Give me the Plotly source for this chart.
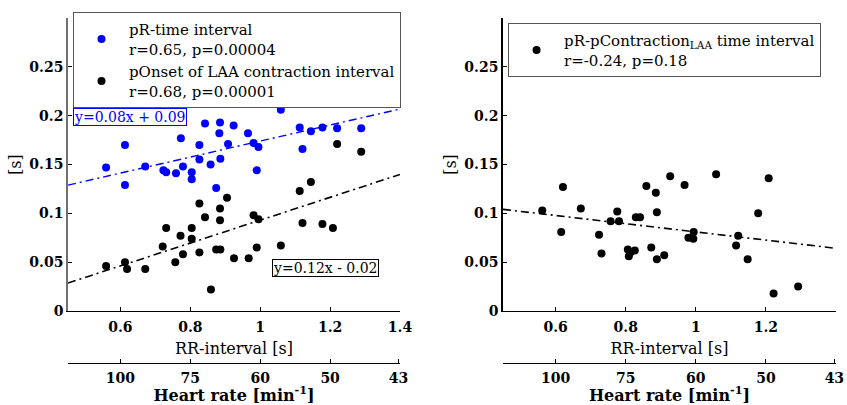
import plotly.graph_objects as go

# ---- data: RR interval [s] vs. time intervals [s] ----
rr_pr = [0.559, 0.613, 0.613, 0.671, 0.723, 0.731, 0.759, 0.773, 0.779, 0.804, 0.804,
         0.826, 0.826, 0.842, 0.858, 0.874, 0.885, 0.883, 0.886, 0.908, 0.924, 0.965,
         0.981, 0.995, 0.990, 1.059, 1.113, 1.121, 1.145, 1.178, 1.220, 1.289]
pr_time = [0.147, 0.170, 0.129, 0.148, 0.144, 0.142, 0.141, 0.177, 0.148, 0.142, 0.135,
           0.170, 0.155, 0.192, 0.150, 0.126, 0.193, 0.182, 0.156, 0.171, 0.190, 0.182,
           0.172, 0.168, 0.144, 0.206, 0.188, 0.166, 0.184, 0.188, 0.187, 0.187]

rr_onset = [0.559, 0.613, 0.619, 0.671, 0.721, 0.731, 0.757, 0.772, 0.779, 0.804, 0.804,
            0.826, 0.826, 0.842, 0.859, 0.874, 0.886, 0.885, 0.885, 0.905, 0.925, 0.967,
            0.981, 0.995, 0.990, 1.059, 1.113, 1.121, 1.145, 1.178, 1.208, 1.220, 1.289]
onset_time = [0.046, 0.050, 0.043, 0.043, 0.066, 0.085, 0.050, 0.077, 0.058, 0.085, 0.074,
              0.110, 0.060, 0.096, 0.022, 0.063, 0.063, 0.105, 0.093, 0.116, 0.054, 0.054,
              0.098, 0.094, 0.065, 0.067, 0.123, 0.090, 0.132, 0.089, 0.085, 0.171, 0.163]

rr_contr = [0.562, 0.621, 0.616, 0.672, 0.724, 0.731, 0.757, 0.781, 0.776, 0.806, 0.809,
            0.814, 0.826, 0.829, 0.841, 0.859, 0.873, 0.886, 0.889, 0.889, 0.910, 0.927,
            0.968, 0.979, 0.993, 0.994, 1.058, 1.115, 1.121, 1.148, 1.178, 1.208, 1.222, 1.292]
contr_time = [0.103, 0.127, 0.081, 0.105, 0.078, 0.059, 0.092, 0.092, 0.102, 0.063, 0.056,
              0.060, 0.062, 0.096, 0.096, 0.128, 0.065, 0.121, 0.101, 0.053, 0.057, 0.138,
              0.129, 0.075, 0.074, 0.081, 0.140, 0.067, 0.077, 0.053, 0.100, 0.136, 0.018, 0.025]

# linear fits: (slope, intercept)
fit_pr = (0.082, 0.092)
fit_onset = (0.117, -0.024)
fit_contr = (-0.042, 0.123)

rr_range = [0.45, 1.4]
s_range = [0, 0.3]
rr_ticks = [0.6, 0.8, 1.0, 1.2, 1.4]
rr_ticktext = ["0.6", "0.8", "1", "1.2", "1.4"]
hr_ticks = [100, 75, 60, 50, 43]
s_ticks = [0, 0.05, 0.1, 0.15, 0.2, 0.25]
s_ticktext = ["0", "0.05", "0.1", "0.15", "0.2", "0.25"]

BLUE = "#0000ff"
SERIF = "DejaVu Serif"


def fit_line(fit):
    m, b = fit
    return rr_range, [m * x + b for x in rr_range]


def fit_label(fit):
    m, b = fit
    sign = "+" if b >= 0 else "-"
    return f"y={m:.2f}x {sign} {abs(b):.2f}"


fig = go.Figure()

# left panel
fig.add_trace(go.Scatter(x=rr_pr, y=pr_time, mode="markers",
                         marker=dict(color=BLUE, size=8),
                         name="pR-time interval<br>r=0.65, p=0.00004",
                         xaxis="x", yaxis="y", legend="legend"))
fig.add_trace(go.Scatter(x=rr_onset, y=onset_time, mode="markers",
                         marker=dict(color="black", size=8),
                         name="pOnset of LAA contraction interval<br>r=0.68, p=0.00001",
                         xaxis="x", yaxis="y", legend="legend"))
lx, ly = fit_line(fit_pr)
fig.add_trace(go.Scatter(x=lx, y=ly, mode="lines", showlegend=False, hoverinfo="skip",
                         line=dict(color=BLUE, width=1.4, dash="8px,4px,2px,4px"),
                         xaxis="x", yaxis="y"))
lx, ly = fit_line(fit_onset)
fig.add_trace(go.Scatter(x=lx, y=ly, mode="lines", showlegend=False, hoverinfo="skip",
                         line=dict(color="black", width=1.6, dash="8px,4px,2px,4px"),
                         xaxis="x", yaxis="y"))

# right panel
fig.add_trace(go.Scatter(x=rr_contr, y=contr_time, mode="markers",
                         marker=dict(color="black", size=8),
                         name="pR-pContraction<sub>LAA</sub> time interval<br>r=-0.24, p=0.18",
                         xaxis="x2", yaxis="y2", legend="legend2"))
lx, ly = fit_line(fit_contr)
fig.add_trace(go.Scatter(x=lx, y=ly, mode="lines", showlegend=False, hoverinfo="skip",
                         line=dict(color="black", width=1.6, dash="8px,4px,2px,4px"),
                         xaxis="x2", yaxis="y2"))

# heart-rate axes share the RR range; bind an invisible trace to each
fig.add_trace(go.Scatter(x=rr_range, y=[None, None], xaxis="x3", yaxis="y",
                         showlegend=False, hoverinfo="skip", mode="lines"))
fig.add_trace(go.Scatter(x=rr_range, y=[None, None], xaxis="x4", yaxis="y2",
                         showlegend=False, hoverinfo="skip", mode="lines"))

tickfont = dict(family=SERIF, size=14, color="black", weight="bold")
titlefont = dict(family=SERIF, size=16, color="black")
hr_titlefont = dict(family=SERIF, size=16, color="black", weight="bold")
y_dom = [0.1507, 1.0]


def rr_axis(domain):
    return dict(domain=domain, range=rr_range, tickvals=rr_ticks, ticktext=rr_ticktext,
                showline=True, linecolor="black", linewidth=1, ticks="inside", ticklen=4,
                tickcolor="black", showgrid=False, zeroline=False, tickfont=tickfont,
                ticklabelstandoff=3,
                title=dict(text="RR-interval [s]", font=titlefont, standoff=8),
                automargin=False, fixedrange=True)


def hr_axis(over):
    return dict(overlaying=over, anchor="free", position=0, range=rr_range,
                tickvals=[60 / h for h in hr_ticks], ticktext=[str(h) for h in hr_ticks],
                showline=True, linecolor="black", linewidth=1, ticks="inside", ticklen=4,
                tickcolor="black", showgrid=False, zeroline=False, tickfont=tickfont,
                ticklabelstandoff=2,
                title=dict(text="Heart rate [min<sup>-1</sup>]", font=hr_titlefont, standoff=5),
                automargin=False, fixedrange=True)


def s_axis(anchor, linecolor):
    return dict(domain=y_dom, anchor=anchor, range=s_range, tickvals=s_ticks,
                ticktext=s_ticktext, showline=True, linecolor=linecolor, linewidth=1.5,
                ticks="inside", ticklen=4, tickcolor="black", showgrid=False,
                zeroline=False, tickfont=tickfont,
                title=dict(text="[s]", font=titlefont, standoff=4),
                automargin=False, fixedrange=True)


legend_style = dict(font=dict(family=SERIF, size=15, color="black"),
                    bordercolor="#555555", borderwidth=1, bgcolor="white",
                    xanchor="left", yanchor="top", itemwidth=45, tracegroupgap=0)

fig.update_layout(
    width=847, height=405,
    margin=dict(l=68, r=11, t=18, b=42),
    paper_bgcolor="white", plot_bgcolor="white",
    xaxis={**rr_axis([0, 0.4323]), "anchor": "y"},
    xaxis2={**rr_axis([0.5664, 1.0]), "anchor": "y2"},
    xaxis3=hr_axis("x"),
    xaxis4=hr_axis("x2"),
    yaxis=s_axis("x", "#707070"),
    yaxis2=s_axis("x2", "black"),
    legend={**legend_style, "x": 0.0065, "y": 1.0174},
    legend2={**legend_style, "x": 0.573, "y": 0.9855},
    annotations=[
        dict(x=0.464, y=0.1987, xref="x", yref="y", xanchor="left", yanchor="middle",
             text=fit_label(fit_pr), showarrow=False,
             font=dict(family=SERIF, size=14, color=BLUE),
             bordercolor=BLUE, borderwidth=1, borderpad=0, bgcolor="white"),
        dict(x=1.0345, y=0.0441, xref="x", yref="y", xanchor="left", yanchor="middle",
             text=fit_label(fit_onset), showarrow=False,
             font=dict(family=SERIF, size=14, color="black"),
             bordercolor="black", borderwidth=1, borderpad=0, bgcolor="white"),
    ],
    showlegend=True,
)

fig.write_html("out.html")
